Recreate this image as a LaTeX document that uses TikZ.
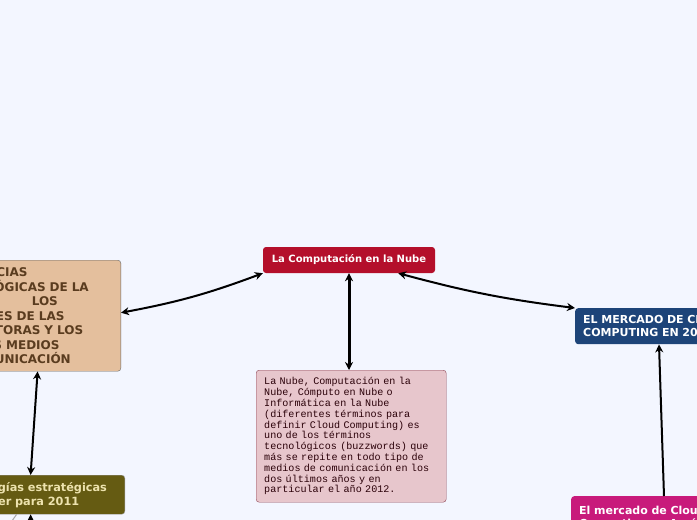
\documentclass[tikz,border=0pt]{standalone}
\usepackage{fontspec}
\setmainfont{DejaVu Sans}
\newfontfamily\monof{Liberation Mono}
\usetikzlibrary{arrows.meta}

\definecolor{bgcol}{HTML}{F3F6FF}
\definecolor{rootred}{HTML}{B40F2B}
\definecolor{tanfill}{HTML}{E4BF9D}
\definecolor{tantext}{HTML}{5A3C1F}
\definecolor{notefill}{HTML}{E7C6CC}
\definecolor{notedraw}{HTML}{8E4656}
\definecolor{notetext}{HTML}{2A0008}
\definecolor{navyfill}{HTML}{1D4479}
\definecolor{olivefill}{HTML}{655B12}
\definecolor{olivetext}{HTML}{EDE3AE}
\definecolor{pinkfill}{HTML}{C81A7B}

\tikzset{
  topic/.style={rounded corners=3pt, inner ysep=0pt, inner xsep=8pt, align=left, font=\bfseries},
  link/.style={line width=2pt, {Stealth[length=8pt,width=8pt]}-{Stealth[length=8pt,width=8pt]}}
}

\begin{document}
\begin{tikzpicture}[x=1pt,y=-1pt]
  \useasboundingbox (0,0) rectangle (697,520);
  \fill[bgcol] (0,0) rectangle (697,520);
  \clip (0,0) rectangle (697,520);

  \path
    (349,260) coordinate (c0)
    (31,560) coordinate (blx)
    (2,535) coordinate (gry);

  %Main topic:
  \node[topic, fill=rootred, text=white, minimum width=172, minimum height=26,
        align=center, font=\bfseries\fontsize{10}{12}\selectfont] (ctr) at (c0)
    {La Computación en la Nube};

  %Left branch:
  \node[topic, anchor=north east, fill=tanfill, draw=black!60, text=tantext,
        minimum width=187, minimum height=111, text width=171,
        font=\bfseries\fontsize{12}{14.5}\selectfont] (lft) at (121,260)
    {TENDENCIAS\\TECNOLÓGICAS DE LA\\\hspace*{90pt}LOS\\INFORMES DE LAS\\CONSULTORAS Y LOS\\PROPIOS MEDIOS\\DE COMUNICACIÓN};

  \node[topic, anchor=north east, fill=olivefill, draw=black!40, text=olivetext,
        minimum width=183, minimum height=39, text width=167,
        font=\bfseries\fontsize{11.3}{14}\selectfont] (bl) at (125,475)
    {Tecnologías estratégicas\\a conocer para 2011};

  %Note:
  \node[topic, anchor=north west, fill=notefill, draw=notedraw, text=notetext,
        minimum width=190, minimum height=132, text width=174,
        font=\monof\fontsize{10.1}{10.8}\selectfont] (desc) at (256,370)
    {La Nube, Computación en la\\Nube, Cómputo en Nube o\\Informática en la Nube\\(diferentes términos para\\definir Cloud Computing) es\\uno de los términos\\tecnológicos (buzzwords) que\\más se repite en todo tipo de\\medios de comunicación en los\\dos últimos años y en\\particular el año 2012.};

  %Right branch:
  \node[topic, anchor=north west, fill=navyfill, text=white,
        minimum height=36, text width=220,
        font=\bfseries\fontsize{11}{12.5}\selectfont] (rgt) at (575,308)
    {EL MERCADO DE CLOUD\\COMPUTING EN 2012};

  \node[topic, anchor=north west, fill=pinkfill, text=white,
        minimum height=44, text width=220,
        font=\bfseries\fontsize{11}{12.5}\selectfont] (brt) at (571,496)
    {El mercado de Cloud\\Computing en América Latina};

  %Connectors:
  \draw[link] ([yshift=3]lft.east) to[bend right=5] (ctr.south west);
  \draw[link, line width=3pt] (ctr.south) -- (ctr.south |- desc.north);
  \draw[link] (ctr.-15) to[bend right=4] (rgt.north west);
  \draw[link, -{Stealth[length=8pt,width=8pt]}] ([xshift=93]brt.north west) -- ([xshift=84]rgt.south west);
  \draw[link] ([xshift=104]lft.south west) -- ([xshift=89]bl.north west);
  \draw[line width=2pt, {Stealth[length=8pt,width=8pt]}-] ([xshift=89]bl.south west) -- (blx);
  \draw[gray!70, line width=1pt] ([xshift=75]bl.south west) -- (gry);
\end{tikzpicture}
\end{document}
